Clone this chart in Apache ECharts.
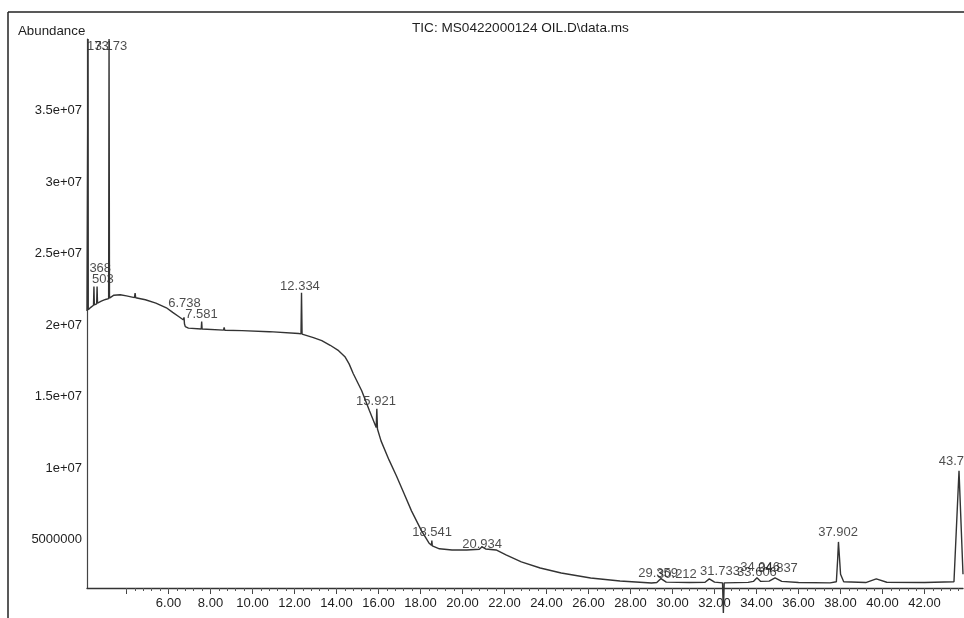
<!DOCTYPE html>
<html>
<head>
  <meta charset="UTF-8">
  <title>TIC: MS0422000124 OIL.D\data.ms</title>
  <script src="https://cdn.jsdelivr.net/npm/echarts@6/dist/echarts.min.js"></script>
  <style>
    html, body { margin: 0; padding: 0; background: #fff; }
    #chart { width: 964px; height: 618px; }
  </style>
</head>
<body>
<div id="chart"></div>
<script type="text/javascript">
  // retention time (min) / abundance
  var traceTime = [
    2.12, 2.16, 2.17, 2.18, 2.30, 2.43, 2.45, 2.47, 2.58, 2.60, 2.62, 2.80, 3.00, 3.15, 3.17, 3.19,
    3.40, 3.70, 4.00, 4.38, 4.41, 4.44, 4.90, 5.40, 5.90, 6.20, 6.50, 6.70, 6.74, 6.76, 6.80, 6.95,
    7.56, 7.58, 7.60, 8.62, 8.65, 8.68, 9.50, 10.80, 12.20, 12.31, 12.334, 12.36, 12.90, 13.30,
    13.70, 14.10, 14.40, 14.60, 14.80, 15.20, 15.57, 15.89, 15.92, 15.95, 16.12, 16.50, 16.85, 17.20, 17.57,
    18.05, 18.40, 18.52, 18.54, 18.56, 18.90, 19.50, 20.20, 20.80, 20.93, 21.10, 21.60, 22.07,
    22.80, 23.70, 24.70, 26.10, 27.50, 29.00, 29.25, 29.45, 29.70, 30.80, 31.55, 31.75, 32.00,
    32.38, 32.42, 32.46, 33.60, 33.85, 34.02, 34.20, 34.60, 34.88, 35.20, 36.00, 37.50, 37.80,
    37.86, 37.90, 37.95, 38.00, 38.15, 39.20, 39.70, 40.20, 42.00, 43.40, 43.45, 43.64, 43.83
  ];
  var traceAbund = [
    21.0e6, 21.05e6, 40.0e6, 21.08e6, 21.25e6, 21.4e6, 22.7e6, 21.42e6, 21.5e6, 22.7e6, 21.55e6, 21.68e6, 21.8e6, 21.86e6, 40.0e6, 21.9e6,
    22.1e6, 22.13e6, 22.05e6, 21.93e6, 22.25e6, 21.92e6, 21.78e6, 21.55e6, 21.22e6, 20.9e6, 20.59e6, 20.38e6, 20.55e6, 20.1e6, 19.9e6, 19.8e6,
    19.74e6, 20.25e6, 19.74e6, 19.66e6, 19.85e6, 19.65e6, 19.62e6, 19.55e6, 19.42e6, 19.4e6, 22.27e6, 19.38e6, 19.13e6, 18.92e6,
    18.6e6, 18.22e6, 17.8e6, 17.3e6, 16.61e6, 15.42e6, 14.02e6, 12.85e6, 14.16e6, 12.75e6, 11.92e6, 10.59e6, 9.48e6, 8.29e6, 7.03e6,
    5.63e6, 4.79e6, 4.62e6, 4.95e6, 4.58e6, 4.38e6, 4.30e6, 4.30e6, 4.35e6, 4.52e6, 4.37e6, 4.30e6, 3.95e6,
    3.46e6, 3.04e6, 2.69e6, 2.34e6, 2.13e6, 1.99e6, 2.02e6, 2.3e6, 2.05e6, 2.02e6, 2.04e6, 2.28e6, 2.05e6,
    2.0e6, -0.1e6, 2.0e6, 2.03e6, 2.1e6, 2.35e6, 2.1e6, 2.12e6, 2.35e6, 2.1e6, 2.02e6, 2.0e6, 2.08e6,
    3.6e6, 4.86e6, 3.74e6, 2.6e6, 2.08e6, 2.02e6, 2.28e6, 2.04e6, 2.02e6, 2.08e6, 2.2e6, 9.83e6, 2.6e6
  ];

  // peak annotations as printed (clipped ones keep only their visible digits)
  var peakLabelText = ['173', '3.173', '368', '503', '6.738', '7.581', '12.334', '15.921', '18.541', '20.934',
    '29.359', '30.212', '31.733', '33.606', '34.046', '34.837', '37.902', '43.711'];
  var peakLabelTime = [2.64, 3.26, 2.75, 2.88, 6.76, 7.57, 12.26, 15.88, 18.55, 20.93,
    29.31, 30.21, 32.26, 34.02, 34.17, 35.02, 37.88, 43.60];
  var peakLabelAbund = [38.99e6, 38.99e6, 23.46e6, 22.69e6, 21.01e6, 20.24e6, 22.20e6, 14.16e6, 5.00e6, 4.16e6,
    2.13e6, 2.06e6, 2.27e6, 2.20e6, 2.55e6, 2.48e6, 5.00e6, 9.97e6];

  var xLabelValues = [6, 8, 10, 12, 14, 16, 18, 20, 22, 24, 26, 28, 30, 32, 34, 36, 38, 40, 42];
  var xMajorTicks = [4, 6, 8, 10, 12, 14, 16, 18, 20, 22, 24, 26, 28, 30, 32, 34, 36, 38, 40, 42];
  var yLabelValues = [5000000, 10000000, 15000000, 20000000, 25000000, 30000000, 35000000];

  var FONT = '"Liberation Sans", Arial, sans-serif';
  var INK = '#1e1e1e';

  var trace = traceTime.map(function (t, i) { return [t, traceAbund[i]]; });
  var labels = peakLabelText.map(function (s, i) {
    return { name: s, value: [peakLabelTime[i], peakLabelAbund[i]] };
  });
  // minor ticks: five per 2-minute step
  var xMinorTicks = [];
  xMajorTicks.forEach(function (v) {
    for (var k = 0; k < 5; k++) xMinorTicks.push(+(v + k * 0.4).toFixed(1));
  });

  var chart = echarts.init(document.getElementById('chart'), null, { renderer: 'canvas' });
  chart.setOption({
    animation: false,
    backgroundColor: '#fff',
    title: [
      { text: 'TIC: MS0422000124 OIL.D\\data.ms', left: 412, top: 21, padding: 0,
        textStyle: { fontFamily: FONT, fontSize: 13.6, fontWeight: 'normal', color: INK } },
      { text: 'Abundance', left: 18, top: 25, padding: 0,
        textStyle: { fontFamily: FONT, fontSize: 13.3, fontWeight: 'normal', color: INK } }
    ],
    graphic: [
      { type: 'line', shape: { x1: 8, y1: 12, x2: 964, y2: 12 }, style: { stroke: '#222', lineWidth: 1.5 } },
      { type: 'line', shape: { x1: 8, y1: 12, x2: 8, y2: 618 }, style: { stroke: '#222', lineWidth: 1.5 } }
    ],
    grid: { left: 87, right: 1, top: 39, bottom: 30, outerBoundsMode: 'none' },
    xAxis: [
      {
        type: 'value', min: 2.12, max: 43.83,
        splitLine: { show: false },
        axisLine: { show: true, onZero: false, lineStyle: { color: '#333', width: 1.3 } },
        axisTick: { show: true, length: 6, customValues: xMajorTicks, lineStyle: { color: '#444' } },
        axisLabel: {
          customValues: xLabelValues, margin: 9, color: INK, fontFamily: FONT, fontSize: 13,
          formatter: function (v) { return v.toFixed(2); }
        }
      },
      {
        type: 'value', min: 2.12, max: 43.83, position: 'bottom',
        splitLine: { show: false },
        axisLine: { show: false, onZero: false },
        axisTick: { show: true, length: 3, customValues: xMinorTicks, lineStyle: { color: '#555' } },
        axisLabel: { show: false }
      }
    ],
    yAxis: {
      type: 'value', min: 1640000, max: 40000000,
      splitLine: { show: false },
      axisLine: { show: true, lineStyle: { color: '#444', width: 1.2 } },
      axisTick: { show: false },
      axisLabel: {
        customValues: yLabelValues, margin: 5, color: INK, fontFamily: FONT, fontSize: 13,
        formatter: function (v) {
          if (v < 10000000) return String(v);
          return (v / 10000000) + 'e+07';
        }
      }
    },
    series: [
      {
        type: 'line', data: trace, xAxisIndex: 0, showSymbol: false, clip: false,
        lineStyle: { color: '#333', width: 1.4 }, silent: true
      },
      {
        type: 'scatter', data: labels, xAxisIndex: 0, symbolSize: 0, silent: true, clip: false,
        label: {
          show: true, position: 'top', distance: 1,
          formatter: function (p) { return p.name; },
          color: INK, fontFamily: FONT, fontSize: 13
        }
      }
    ]
  });
</script>
</body>
</html>
